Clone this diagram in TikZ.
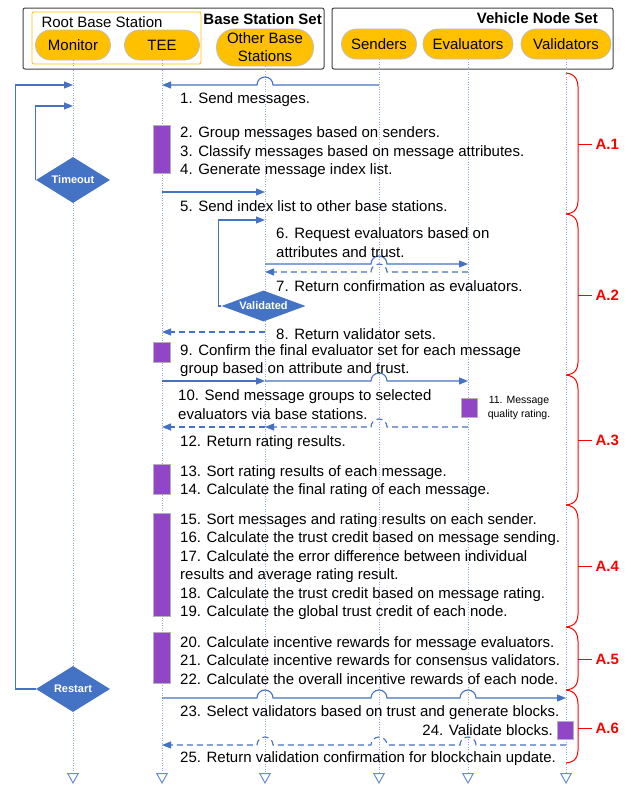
\documentclass[tikz,border=0pt]{standalone}
\usepackage{fontspec}
\setmainfont{Liberation Sans}
\usetikzlibrary{arrows.meta,calc,shapes.geometric}

\definecolor{lineblue}{HTML}{4472C4}
\definecolor{lifeblue}{HTML}{8FAADC}
\definecolor{pillgold}{HTML}{FFC000}
\definecolor{actpurple}{HTML}{9146C8}
\definecolor{phasered}{HTML}{FF0000}

% hop over a lifeline, going left / going right
\newcommand\hopl[2]{-- ($(#1 |- 0,#2)+(8,0)$) arc[start angle=0,end angle=180,radius=8pt]}
\newcommand\hopr[2]{-- ($(#1 |- 0,#2)+(-8,0)$) arc[start angle=180,end angle=0,radius=8pt]}
% red phase bracket on the right
\newcommand\phasebrace[5]{%
  \draw[brc] (vld |- 0,#1) .. controls +(10,-1) and +(0,6) .. ($(vld |- 0,#1)+(12,-14)$)
    -- ($(vld |- 0,#2)+(12,13)$) .. controls +(0,-6) and +(10,1) .. (vld |- 0,#2);
  \draw[brc] ($(vld |- 0,#3)+(12,0)$) -- ++(14,0) node[phase] (#4) {#5};}

\begin{document}
\begin{tikzpicture}[x=1pt,y=1pt,
    every node/.style={font=\fontsize{15}{18.5}\selectfont},
    setbox/.style={draw=black!75, line width=1pt, rounded corners=2pt, inner sep=0},
    rootbox/.style={draw=pillgold, line width=0.8pt, rounded corners=2pt, inner sep=0},
    settitle/.style={font=\bfseries\fontsize{15}{18}\selectfont, inner sep=0},
    pill/.style={draw=black!25, fill=pillgold, line width=0.8pt, rounded corners=15pt,
      minimum height=30, inner sep=0, align=center},
    life/.style={draw=lifeblue, line width=0.8pt, dash pattern=on 1pt off 1.5pt,
      -{Triangle[open,length=11pt,width=12pt,line width=1pt,color=lineblue!80]}},
    msg/.style={draw=lineblue, line width=1.1pt, -{Triangle[length=9pt,width=7pt]}},
    ret/.style={msg, dash pattern=on 6pt off 4pt},
    act/.style={draw=black!30, fill=actpurple, line width=0.8pt, minimum width=17, inner sep=0},
    dmd/.style={shape=diamond, fill=lineblue, text=white, inner sep=0, shape aspect=2.7,
      minimum width=74, minimum height=46, font=\bfseries\fontsize{11}{13}\selectfont},
    txt/.style={anchor=west, align=left, inner sep=0, yshift=-1.5},
    brc/.style={draw=phasered, line width=1pt},
    phase/.style={right, inner sep=3pt, text=phasered, font=\bfseries\fontsize{15}{18}\selectfont}]

  \useasboundingbox (0,0) rectangle (631,-787);

  % header
  \node[setbox, minimum width=301, minimum height=61] (bss) at (173.5,-38.5) {};
  \node[setbox, minimum width=281, minimum height=61] (vns) at (472.5,-38.5) {};
  \node[rootbox, minimum width=169, minimum height=52] (root) at (116.5,-38) {};
  \node[inner sep=0] (roott) at (102,-22) {Root Base Station};
  \node[settitle, anchor=east] (bsst) at (322,-19) {Base Station Set};
  \node[settitle, anchor=east] (vnst) at (598,-18) {Vehicle Node Set};

  \node[pill, minimum width=75] (mon) at (73,-45) {Monitor};
  \node[pill, minimum width=75] (tee) at (162,-45) {TEE};
  \node[pill, minimum width=97, minimum height=37, rounded corners=18pt,
    font=\fontsize{15}{18}\selectfont] (obs) at (265,-47.5) {Other Base\\Stations};
  \node[pill, minimum width=75] (snd) at (379,-44) {Senders};
  \node[pill, minimum width=90] (evl) at (468,-44) {Evaluators};
  \node[pill, minimum width=90] (vld) at (566,-44) {Validators};

  % lifelines
  \foreach \p in {mon,tee,obs,snd,evl,vld}
    \draw[life] (\p.south) -- (\p |- 0,-784);

  % loops
  \node[dmd] (tmo) at (73,-180) {Timeout};
  \node[dmd] (rst) at (73,-689) {Restart};
  \node[dmd, minimum width=84, minimum height=31] (vdt) at (263.5,-306) {Validated};
  \draw[msg] (rst.west) -- ++(-20,0) |- (mon |- 0,-85);
  \draw[msg] (tmo.west) |- (mon |- 0,-106);
  \draw[msg] (vdt.west) -- ++(-3,0) |- (obs |- 0,-220);

  % activations
  \node[act, minimum height=48] (act1) at (162,-149) {};
  \node[act, minimum height=20] (act2) at (162,-352) {};
  \node[act, minimum height=19, minimum width=16] (act3) at (469.5,-407.5) {};
  \node[act, minimum height=30] (act4) at (162,-479) {};
  \node[act, minimum height=103] (act5) at (162,-564.5) {};
  \node[act, minimum height=51] (act6) at (162,-657.5) {};
  \node[act, minimum height=18, minimum width=16] (act7) at (565,-730) {};

  % messages
  \draw[msg] (snd |- 0,-85) \hopl{obs}{-85} -- (tee |- 0,-85);
  \draw[msg] (tee |- 0,-192) -- (obs |- 0,-192);
  \draw[msg] (obs |- 0,-264) \hopr{snd}{-264} -- (evl |- 0,-264);
  \draw[ret] (evl |- 0,-272) \hopl{snd}{-272} -- (obs |- 0,-272);
  \draw[ret] (obs |- 0,-332) -- (tee |- 0,-332);
  \draw[msg] (tee |- 0,-381) -- (obs |- 0,-381);
  \draw[msg] (obs |- 0,-381) \hopr{snd}{-381} -- (evl |- 0,-381);
  \draw[ret] (evl |- 0,-427) \hopl{snd}{-427} -- (obs |- 0,-427);
  \draw[ret] (obs |- 0,-427) -- (tee |- 0,-427);
  \draw[msg] (tee |- 0,-698) \hopr{obs}{-698} \hopr{snd}{-698} \hopr{evl}{-698} -- (vld |- 0,-698);
  \draw[ret] (vld |- 0,-745) \hopl{evl}{-745} \hopl{snd}{-745} \hopl{obs}{-745} -- (tee |- 0,-745);

  % step texts
  \node[txt] (m1) at (180,-98) {1. Send messages.};
  \node[txt] (m2) at (180,-151) {2. Group messages based on senders.\\
    3. Classify messages based on message attributes.\\4. Generate message index list.};
  \node[txt] (m5) at (180,-205) {5. Send index list to other base stations.};
  \node[txt] (m6) at (276,-241) {6. Request evaluators based on\\attributes and trust.};
  \node[txt] (m7) at (276,-285) {7. Return confirmation as evaluators.};
  \node[txt] (m8) at (276,-333) {8. Return validator sets.};
  \node[txt] (m9) at (180,-359) {9. Confirm the final evaluator set for each message\\
    group based on attribute and trust.};
  \node[txt] (m10) at (178,-403) {10. Send message groups to selected\\evaluators via base stations.};
  \node[align=center, inner sep=0, font=\fontsize{10.5}{14}\selectfont] (m11) at (519,-408)
    {11. Message\\quality rating.};
  \node[txt] (m12) at (180,-441) {12. Return rating results.};
  \node[txt] (m13) at (180,-480) {13. Sort rating results of each message.\\
    14. Calculate the final rating of each message.};
  \node[txt] (m15) at (180,-565) {15. Sort messages and rating results on each sender.\\
    16. Calculate the trust credit based on message sending.\\
    17. Calculate the error difference between individual\\
    results and average rating result.\\
    18. Calculate the trust credit based on message rating.\\
    19. Calculate the global trust credit of each node.};
  \node[txt] (m20) at (180,-659) {20. Calculate incentive rewards for message evaluators.\\
    21. Calculate incentive rewards for consensus validators.\\
    22. Calculate the overall incentive rewards of each node.};
  \node[txt] (m23) at (180,-711) {23. Select validators based on trust and generate blocks.};
  \node[txt, anchor=east] (m24) at (553,-729) {24. Validate blocks.};
  \node[txt] (m25) at (180,-757) {25. Return validation confirmation for blockchain update.};

  % phases
  \phasebrace{-73}{-214}{-144}{a1}{A.1}
  \phasebrace{-214}{-375}{-295}{a2}{A.2}
  \phasebrace{-375}{-505}{-440}{a3}{A.3}
  \phasebrace{-505}{-627}{-566}{a4}{A.4}
  \phasebrace{-627}{-690}{-659}{a5}{A.5}
  \phasebrace{-690}{-763}{-728}{a6}{A.6}
\end{tikzpicture}
\end{document}
